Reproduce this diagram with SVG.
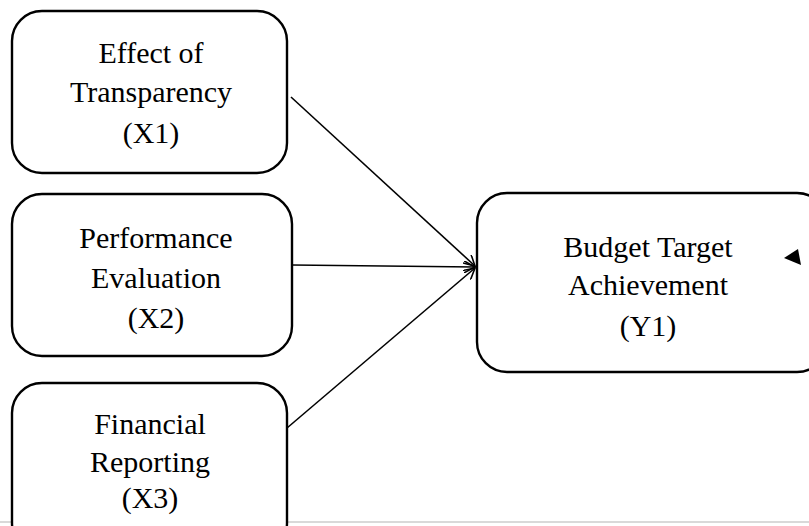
<svg xmlns="http://www.w3.org/2000/svg" width="809" height="526" viewBox="0 0 809 526">
<style>
.box{fill:#fff;stroke:#000;stroke-width:2.4}
.t{font-family:"Liberation Serif","Times New Roman",serif;font-size:30px;fill:#000;text-anchor:middle}
.c{fill:none;stroke:#000;stroke-width:1.6}
</style>
<defs>
<marker id="ah" viewBox="0 0 12 12" refX="11" refY="6" markerWidth="12" markerHeight="12" markerUnits="userSpaceOnUse" orient="auto">
<path d="M0,0 L11,6 L0,12" fill="none" stroke="#000" stroke-width="1.6"/>
</marker>
</defs>
<rect width="809" height="526" fill="#fff"/>
<line x1="0" y1="522" x2="809" y2="522" stroke="#d9d9d9" stroke-width="2"/>
<g id="connectors">
<line class="c" x1="291" y1="97" x2="475" y2="266" marker-end="url(#ah)"/>
<line class="c" x1="292" y1="265" x2="475" y2="267" marker-end="url(#ah)"/>
<line class="c" x1="287" y1="428" x2="475" y2="268" marker-end="url(#ah)"/>
</g>
<g id="x1">
<rect class="box" x="12" y="11" width="275" height="162" rx="30" ry="30"/>
<text class="t" x="151" y="63">Effect of</text>
<text class="t" x="151" y="102">Transparency</text>
<text class="t" x="151" y="143">(X1)</text>
</g>
<g id="x2">
<rect class="box" x="12" y="194" width="280" height="162" rx="30" ry="30"/>
<text class="t" x="156" y="248">Performance</text>
<text class="t" x="156" y="288">Evaluation</text>
<text class="t" x="156" y="328">(X2)</text>
</g>
<g id="x3">
<rect class="box" x="12" y="383" width="275" height="170" rx="30" ry="30"/>
<text class="t" x="150" y="434">Financial</text>
<text class="t" x="150" y="472">Reporting</text>
<text class="t" x="150" y="508">(X3)</text>
</g>
<g id="y1">
<rect class="box" x="477" y="193" width="350" height="179" rx="30" ry="30"/>
<text class="t" x="648" y="257">Budget Target</text>
<text class="t" x="648" y="295">Achievement</text>
<text class="t" x="648" y="336">(Y1)</text>
<path d="M784,258 L798,249 L801,265 Z" fill="#000"/>
</g>
</svg>
